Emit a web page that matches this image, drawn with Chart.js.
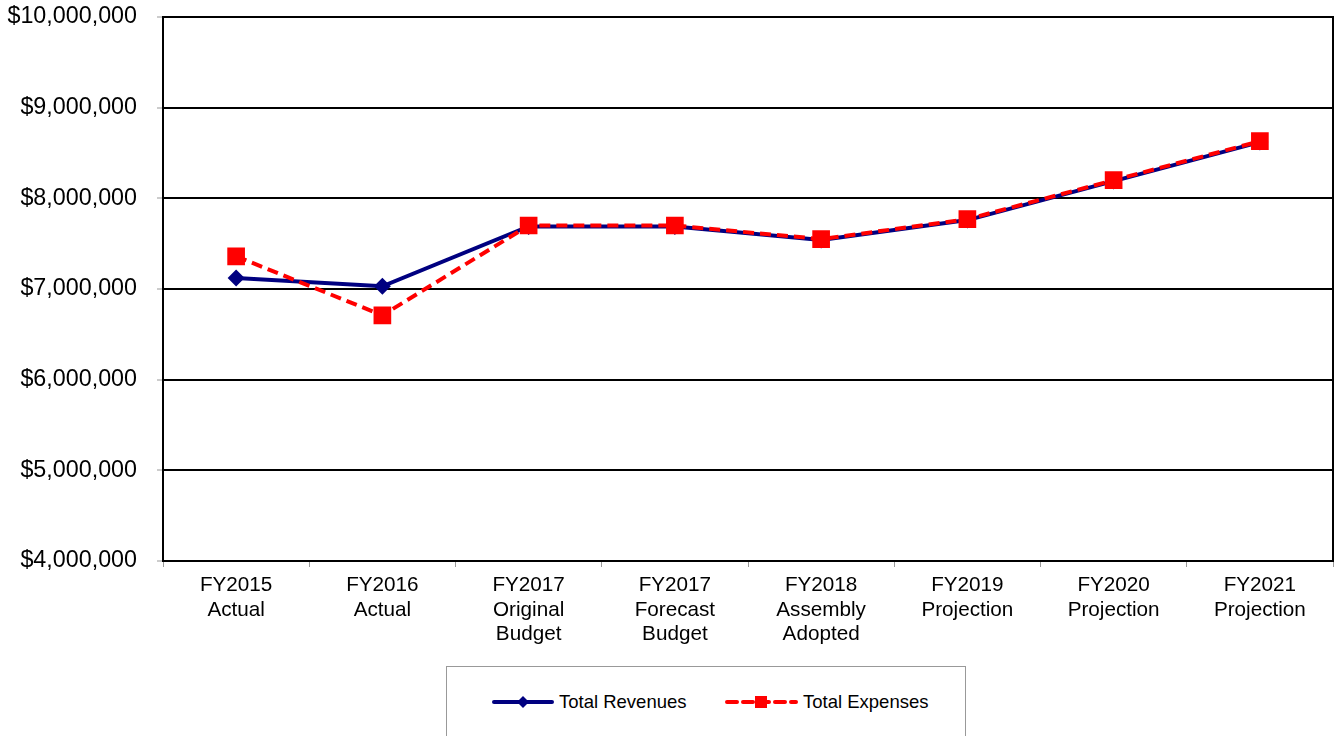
<!DOCTYPE html>
<html>
<head>
<meta charset="utf-8">
<script src="https://cdn.jsdelivr.net/npm/chart.js@4/dist/chart.umd.min.js"></script>
<style>
  html, body { margin: 0; padding: 0; background: #fff; }
  #wrap { position: relative; width: 1336px; height: 736px; }
  #legend {
    position: absolute; left: 446px; top: 666px; width: 520px; height: 80px;
    border: 1px solid #999; box-sizing: border-box; background: #fff;
    font-family: "Liberation Sans", Arial, sans-serif; font-size: 18.5px; color: #000;
  }
  .item { position: absolute; top: 24px; display: flex; align-items: center; }
  .item svg { margin-right: 5px; }
</style>
</head>
<body>
<div id="wrap">
  <canvas id="chart" width="1336" height="736"></canvas>
  <div id="legend">
    <div class="item" style="left:45px">
      <svg width="62" height="20"><line x1="2" y1="10" x2="60" y2="10" stroke="#000080" stroke-width="4" stroke-linecap="round"/><polygon points="31,4 37,10 31,16 25,10" fill="#000080"/></svg>
      <span>Total Revenues</span>
    </div>
    <div class="item" style="left:278px">
      <svg width="73" height="20"><line x1="2" y1="10" x2="71" y2="10" stroke="#ff0000" stroke-width="4" stroke-dasharray="10 6" stroke-linecap="round"/><rect x="30" y="4" width="12" height="12" fill="#ff0000"/></svg>
      <span>Total Expenses</span>
    </div>
  </div>
</div>
<script>
// categorias y valores
const categories = [
  ['FY2015', 'Actual'],
  ['FY2016', 'Actual'],
  ['FY2017', 'Original', 'Budget'],
  ['FY2017', 'Forecast', 'Budget'],
  ['FY2018', 'Assembly', 'Adopted'],
  ['FY2019', 'Projection'],
  ['FY2020', 'Projection'],
  ['FY2021', 'Projection']
];
const totalRevenues = [7120000, 7030000, 7690000, 7690000, 7540000, 7760000, 8190000, 8620000];
const totalExpenses = [7360000, 6710000, 7700000, 7700000, 7550000, 7770000, 8200000, 8630000];
const yMin = 4000000;
const yMax = 10000000;
const yStep = 1000000;

// borde del area del grafico
const frame = {
  id: 'frame',
  afterDraw(chart) {
    const { ctx, chartArea: a } = chart;
    ctx.save();
    ctx.strokeStyle = '#000';
    ctx.lineWidth = 2;
    ctx.strokeRect(a.left, a.top, a.right - a.left, a.bottom - a.top);
    ctx.restore();
  }
};

const fmt = v => '$' + v.toFixed(0).replace(/\B(?=(\d{3})+(?!\d))/g, ',');

new Chart(document.getElementById('chart'), {
  type: 'line',
  data: {
    labels: categories,
    datasets: [{
      label: 'Total Expenses',
      data: totalExpenses,
      borderColor: '#ff0000',
      backgroundColor: '#ff0000',
      borderWidth: 4,
      borderDash: [11, 6],
      pointStyle: 'rect',
      pointRadius: 12.5,
      pointBorderWidth: 0,
      tension: 0,
      order: 0
    }, {
      label: 'Total Revenues',
      data: totalRevenues,
      borderColor: '#000080',
      backgroundColor: '#000080',
      borderWidth: 4,
      pointStyle: 'rectRot',
      pointRadius: 8.5,
      pointBorderWidth: 0,
      tension: 0,
      order: 1
    }]
  },
  options: {
    responsive: false,
    animation: false,
    layout: { autoPadding: false, padding: { top: 17, right: 3, left: 0, bottom: 0 } },
    plugins: { legend: { display: false }, tooltip: { enabled: false } },
    scales: {
      x: {
        offset: true,
        grid: { offset: true, drawOnChartArea: false, color: '#999', tickLength: 6, lineWidth: 1 },
        border: { color: '#000', width: 2 },
        ticks: {
          color: '#000', padding: 6, maxRotation: 0, autoSkip: false,
          font: { family: 'Liberation Sans', size: 20.7, lineHeight: 1.19 }
        },
        afterFit(scale) {
          scale.height = 175;
          scale.paddingLeft = 0;
          scale.paddingRight = 0;
        }
      },
      y: {
        min: yMin,
        max: yMax,
        grid: { color: '#000', lineWidth: 2, tickColor: '#999', tickLength: 6, tickWidth: 1 },
        border: { color: '#000', width: 2 },
        ticks: {
          stepSize: yStep, color: '#000', padding: 20,
          font: { family: 'Liberation Sans', size: 23.3 },
          callback: v => fmt(v)
        },
        afterFit(scale) {
          scale.width = 163;
          scale.paddingTop = 0;
          scale.paddingBottom = 0;
        }
      }
    }
  },
  plugins: [frame]
});
</script>
</body>
</html>
